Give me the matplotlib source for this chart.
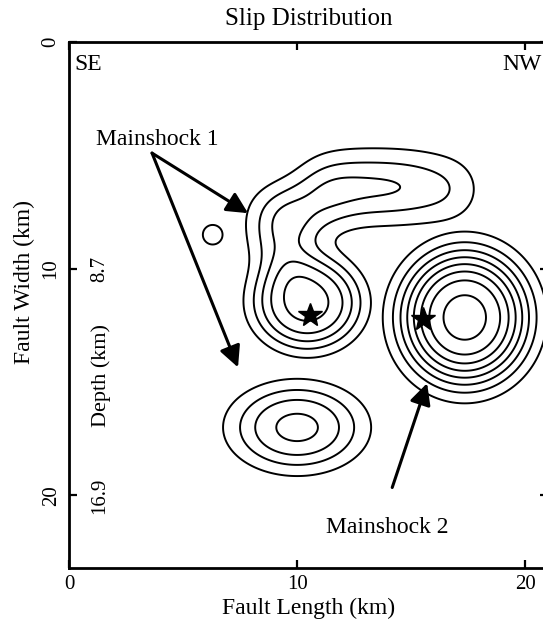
"""Slip distribution on the fault plane, contour map with mainshock hypocentres."""

import matplotlib.pyplot as plt
import numpy as np

plt.rcParams["font.family"] = ["Liberation Serif", "DejaVu Serif"]

# slip patches (km along strike, km down dip);
# patches of one group add up, separate groups do not overlap
patch_group = [0, 0, 0, 0, 0, 0, 0, 0, 1, 2, 3]
patch_x = [10.45, 9.3, 9.5, 11.2, 12.6, 14.0, 15.4, 16.9, 17.35, 10.0, 6.3]
patch_y = [11.5, 9.1, 7.6, 6.6, 6.4, 6.4, 6.4, 6.5, 12.15, 17.0, 8.5]
patch_sx = [2.35, 1.4, 1.6, 1.4, 1.4, 1.4, 1.4, 1.4, 2.8, 2.8, 0.95]
patch_sy = [2.05, 1.4, 1.4, 1.6, 1.6, 1.6, 1.6, 1.6, 2.95, 1.85, 0.95]
patch_peak = [5.3, 1.8, 2.5, 2.1, 1.8, 1.8, 1.6, 1.3, 8.3, 4.25, 1.15]
patch_shape = [3.0, 2.0, 2.0, 2.0, 2.0, 2.0, 2.0, 2.0, 3.0, 2.5, 2.5]

slip_levels = [1, 2, 3, 4, 5, 6, 7, 8]

# hypocentres
star_x = [10.55, 15.5]
star_y = [12.05, 12.2]

x_ticks = [0, 10, 20]
y_ticks = [0, 10, 20]
depth_ticks = [10, 20]
depth_labels = ["8.7", "16.9"]

grid_x, grid_y = np.meshgrid(np.linspace(0, 21, 421), np.linspace(0, 23.2, 465))
group_slip = np.zeros((max(patch_group) + 1,) + grid_x.shape)
for group, px, py, sx, sy, peak, shape in zip(
    patch_group, patch_x, patch_y, patch_sx, patch_sy, patch_peak, patch_shape
):
    dist = np.sqrt(((grid_x - px) / sx) ** 2 + ((grid_y - py) / sy) ** 2)
    group_slip[group] += peak * np.exp(-(dist**shape))
slip = group_slip.max(axis=0)

figure = plt.figure(figsize=(5.43, 6.23), dpi=100)
axis = figure.add_axes([69 / 543, 55 / 623, 479 / 543, 526 / 623])

axis.contour(grid_x, grid_y, slip, levels=slip_levels, colors="black", linewidths=1.4)
axis.plot(star_x, star_y, linestyle="none", marker="*", markersize=18, color="black")

arrow_props = dict(arrowstyle="-|>", color="black", lw=2.2, mutation_scale=32,
                   shrinkA=0, shrinkB=0)
axis.annotate("", xy=(7.85, 7.55), xytext=(3.64, 4.9), arrowprops=arrow_props)
axis.annotate("", xy=(7.41, 14.35), xytext=(3.64, 4.9), arrowprops=arrow_props)
axis.annotate("", xy=(15.7, 15.05), xytext=(14.17, 19.65), arrowprops=arrow_props)
axis.text(3.88, 4.28, "Mainshock 1", fontsize=17, ha="center", va="center")
axis.text(13.95, 21.4, "Mainshock 2", fontsize=17, ha="center", va="center")
axis.text(0.25, 1.0, "SE", fontsize=17, ha="left", va="center")
axis.text(20.7, 1.0, "NW", fontsize=17, ha="right", va="center")

for depth_y, depth_label in zip(depth_ticks, depth_labels):
    axis.text(1.36, depth_y, depth_label, fontsize=15, rotation=90,
              ha="center", va="center")
axis.text(1.4, 14.7, "Depth (km)", fontsize=16, rotation=90, ha="center", va="center")
axis.text(-1.97, 10.6, "Fault Width (km)", fontsize=17, rotation=90,
          ha="center", va="center", clip_on=False)

axis.set_xlim(0, 21)
axis.set_ylim(23.2, 0)
axis.set_xticks(x_ticks)
axis.set_yticks(y_ticks)
axis.tick_params(axis="both", direction="in", length=6, width=1.6, labelsize=15,
                 top=True, right=True)
axis.tick_params(axis="x", pad=5)
axis.tick_params(axis="y", labelrotation=90, pad=6)
for label in axis.get_yticklabels():
    label.set_verticalalignment("center")
axis.set_xlabel("Fault Length (km)", fontsize=17, labelpad=3)
axis.set_title("Slip Distribution", fontsize=18, pad=12)
for spine in axis.spines.values():
    spine.set_linewidth(2)

figure.savefig("out.png", dpi=100)
